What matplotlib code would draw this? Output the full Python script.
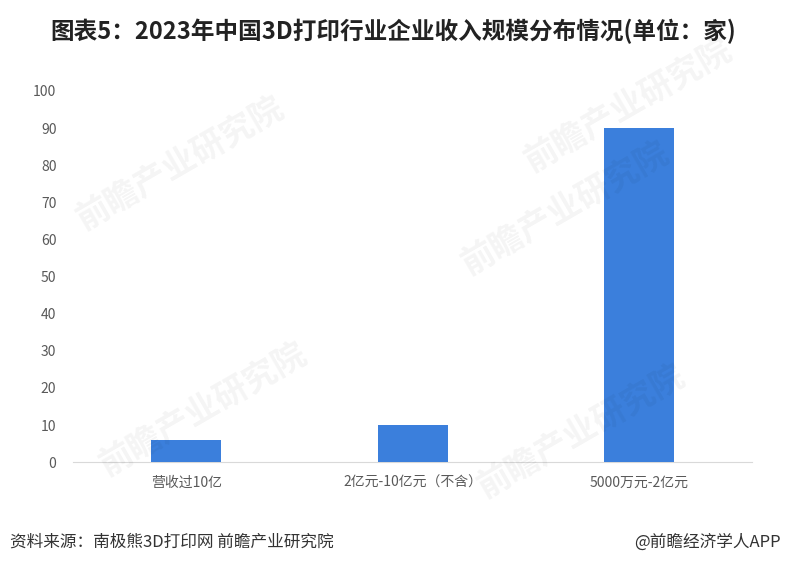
import matplotlib
matplotlib.use("Agg")
from matplotlib import pyplot as plt

plt.rcParams['font.family'] = ['Noto Sans CJK SC', 'DejaVu Sans']

# data
categories = ['营收过10亿', '2亿元-10亿元（不含）', '5000万元-2亿元']
counts = [6, 10, 90]
yticks = [0, 10, 20, 30, 40, 50, 60, 70, 80, 90, 100]

fig = plt.figure(figsize=(7.86, 5.72), dpi=100)
ax = fig.add_axes([0.093, 0.192, 0.864, 0.649])

x = range(len(categories))
ax.bar(x, counts, width=0.31, color='#3b7fdc', zorder=3)

ax.set_xlim(-0.5, 2.5)
ax.set_ylim(0, 100)
ax.set_yticks(yticks)
ax.set_xticks(list(x))
ax.set_xticklabels(categories)

for s in ['top', 'right', 'left']:
    ax.spines[s].set_visible(False)
ax.spines['bottom'].set_color('#d9d9d9')
ax.tick_params(axis='both', length=0, labelsize=10, colors='#595959', pad=12)
ax.tick_params(axis='x', pad=10)

# faint watermarks
for wx, wy in [(0.09, 0.6), (0.58, 0.52), (0.12, 0.17), (0.6, 0.13), (0.66, 0.7)]:
    fig.text(wx, wy, '前瞻产业研究院', fontsize=24, color='#000000', alpha=0.045,
             rotation=30, fontweight='bold')

fig.text(0.5, 0.945, '图表5：2023年中国3D打印行业企业收入规模分布情况(单位：家)',
         ha='center', va='center', fontsize=17, fontweight='bold', color='#222222')
fig.text(0.013, 0.052, '资料来源：南极熊3D打印网 前瞻产业研究院', ha='left', va='center',
         fontsize=12, color='#333333')
fig.text(0.993, 0.052, '@前瞻经济学人APP', ha='right', va='center',
         fontsize=12, color='#333333')

fig.savefig('out.png', dpi=100)
